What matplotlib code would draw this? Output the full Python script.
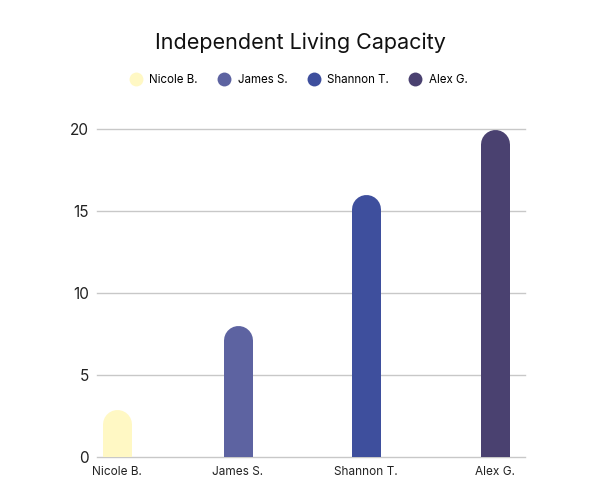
import matplotlib
matplotlib.use("Agg")
import matplotlib.pyplot as plt
from matplotlib.lines import Line2D
from matplotlib.patches import Rectangle

names = ["Nicole B.", "James S.", "Shannon T.", "Alex G."]
values = [2.9, 8, 16, 20]
colors = ["#FFF8C4", "#5D63A1", "#3E4F9D", "#4A4170"]
positions = [0, 0.96, 1.98, 3.0]
yticks = [0, 5, 10, 15, 20]

plt.rcParams["font.family"] = ["Inter", "DejaVu Sans"]

fig = plt.figure(figsize=(6, 4.88), dpi=100)
ax = fig.add_axes([97/600, 1 - 457.3/488, (525-97)/600, (457.3-129)/488])
ax.set_xlim(-0.156, 3.24)
ax.set_ylim(0, 20)

bar_px = 29
ax_h_px = ax.get_position().height * 488
r_data = (bar_px / 2) / (ax_h_px / 20)
lw_pt = bar_px * 72 / 100

clip = Rectangle((-1, 0), 6, 40, transform=ax.transData)
for x, v, c in zip(positions, values, colors):
    ln, = ax.plot([x, x], [0, v - r_data], color=c, linewidth=lw_pt,
                  solid_capstyle="round", zorder=3)
    ln.set_clip_path(clip)

ax.set_yticks(yticks)
ax.set_yticklabels([str(t) for t in yticks], fontsize=11, color="#222222")
ax.set_xticks(positions)
ax.set_xticklabels(names, fontsize=8.5, color="#222222")
ax.tick_params(axis="both", length=0, pad=6)
ax.tick_params(axis="y", pad=6)
ax.grid(axis="y", color="#c8c8c8", linewidth=1, zorder=0)
for gl in ax.get_ygridlines():
    gl.set_clip_on(False)
for s in ax.spines.values():
    s.set_visible(False)

fig.text(0.5, 1 - 43/488, "Independent Living Capacity", ha="center", va="center",
         fontsize=15.5, color="#111111")

handles = [Line2D([0], [0], marker="o", linestyle="", markersize=10,
                  markerfacecolor=c, markeredgewidth=0) for c in colors]
fig.legend(handles, names, loc="center", bbox_to_anchor=(0.497, 1 - 80/488),
           ncol=4, frameon=False, fontsize=8.3, handletextpad=0.55,
           columnspacing=1.7, handlelength=1.2)

fig.savefig("out.png", dpi=100, facecolor="white")
